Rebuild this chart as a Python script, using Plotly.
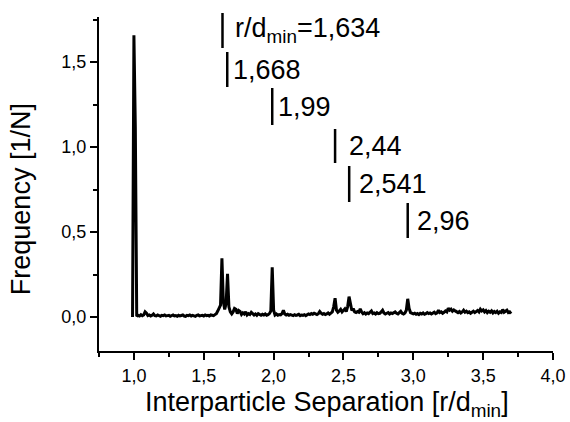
import plotly.graph_objects as go

# Histogram of interparticle separation (bin width 0.01, first bin at 0.99)
x_first = 0.99
bin_width = 0.01
freq = [
    0.000, 1.657, 1.118, 0.004, 0.010, 0.006, 0.014, 0.008, 0.012, 0.030,   # 0.99-1.08
    0.022, 0.008, 0.012, 0.006, 0.010, 0.018, 0.008, 0.006, 0.012, 0.008,   # 1.09-1.18
    0.004, 0.010, 0.008, 0.012, 0.006, 0.008, 0.010, 0.004, 0.008, 0.012,   # 1.19-1.28
    0.006, 0.008, 0.004, 0.010, 0.006, 0.008, 0.012, 0.006, 0.004, 0.010,   # 1.29-1.38
    0.008, 0.012, 0.006, 0.010, 0.008, 0.004, 0.010, 0.012, 0.006, 0.008,   # 1.39-1.48
    0.010, 0.006, 0.012, 0.008, 0.010, 0.006, 0.012, 0.010, 0.008, 0.014,   # 1.49-1.58
    0.020, 0.035, 0.055, 0.070, 0.346, 0.090, 0.045, 0.080, 0.254, 0.060,   # 1.59-1.68
    0.030, 0.018, 0.030, 0.050, 0.045, 0.020, 0.038, 0.032, 0.015, 0.025,   # 1.69-1.78
    0.018, 0.030, 0.012, 0.020, 0.015, 0.028, 0.020, 0.012, 0.018, 0.010,   # 1.79-1.88
    0.020, 0.014, 0.010, 0.016, 0.012, 0.018, 0.010, 0.014, 0.020, 0.035,   # 1.89-1.98
    0.293, 0.040, 0.012, 0.018, 0.010, 0.014, 0.012, 0.020, 0.040, 0.018,   # 1.99-2.08
    0.012, 0.016, 0.010, 0.014, 0.012, 0.008, 0.014, 0.010, 0.012, 0.016,   # 2.09-2.18
    0.008, 0.012, 0.010, 0.014, 0.008, 0.012, 0.018, 0.014, 0.020, 0.016,   # 2.19-2.28
    0.022, 0.018, 0.014, 0.020, 0.032, 0.022, 0.016, 0.020, 0.014, 0.018,   # 2.29-2.38
    0.024, 0.016, 0.022, 0.030, 0.060, 0.111, 0.040, 0.028, 0.035, 0.045,   # 2.39-2.48
    0.030, 0.040, 0.048, 0.032, 0.060, 0.120, 0.070, 0.038, 0.050, 0.030,   # 2.49-2.58
    0.026, 0.032, 0.028, 0.048, 0.030, 0.020, 0.026, 0.018, 0.024, 0.020,   # 2.59-2.68
    0.028, 0.036, 0.020, 0.024, 0.018, 0.026, 0.020, 0.022, 0.030, 0.040,   # 2.69-2.78
    0.024, 0.018, 0.022, 0.026, 0.018, 0.024, 0.020, 0.026, 0.030, 0.022,   # 2.79-2.88
    0.018, 0.026, 0.034, 0.022, 0.018, 0.024, 0.040, 0.107, 0.050, 0.026,   # 2.89-2.98
    0.020, 0.018, 0.022, 0.016, 0.020, 0.014, 0.022, 0.018, 0.024, 0.016,   # 2.99-3.08
    0.020, 0.026, 0.020, 0.024, 0.018, 0.022, 0.028, 0.020, 0.024, 0.040,   # 3.09-3.18
    0.026, 0.030, 0.022, 0.028, 0.036, 0.030, 0.052, 0.040, 0.046, 0.034,   # 3.19-3.28
    0.042, 0.036, 0.030, 0.026, 0.032, 0.024, 0.030, 0.040, 0.028, 0.034,   # 3.29-3.38
    0.026, 0.030, 0.022, 0.028, 0.034, 0.026, 0.032, 0.038, 0.030, 0.046,   # 3.39-3.48
    0.036, 0.042, 0.030, 0.038, 0.026, 0.034, 0.028, 0.036, 0.024, 0.032,   # 3.49-3.58
    0.026, 0.034, 0.022, 0.030, 0.026, 0.044, 0.028, 0.036, 0.040, 0.026,   # 3.59-3.68
    0.030, 0.020,                                                           # 3.69-3.70
]
separation = [round(x_first + bin_width * i, 2) for i in range(len(freq))]

peak_positions = [1.634, 1.668, 1.99, 2.44, 2.541, 2.96]
peak_labels = ["r/d<sub>min</sub>=1,634", "1,668", "1,99", "2,44", "2,541", "2,96"]

x_tickvals = [1.0, 1.5, 2.0, 2.5, 3.0, 3.5, 4.0]
y_tickvals = [0.0, 0.5, 1.0, 1.5]

FONT = "Liberation Sans, Arial, Helvetica, sans-serif"

fig = go.Figure()
fig.add_trace(go.Scatter(
    x=separation, y=freq, mode="lines",
    line=dict(color="black", width=3), showlegend=False, hoverinfo="skip",
))

# label bar placement (paper y ranges) and text offsets
bar_y = [(0.9072, 1.0120), (0.7904, 0.8952), (0.6766, 0.7874),
         (0.5629, 0.6647), (0.4461, 0.5539), (0.3383, 0.4431)]
text_shift = [11, 4, 4, 12, 8, 7]

for px, lab, (y0, y1), xs in zip(peak_positions, peak_labels, bar_y, text_shift):
    fig.add_shape(type="line", xref="x", yref="paper", x0=px, x1=px, y0=y0, y1=y1,
                  line=dict(color="black", width=2.5))
    fig.add_annotation(x=px, y=(y0 + y1) / 2, xref="x", yref="paper", text=lab,
                       showarrow=False, xanchor="left", yanchor="middle", xshift=xs,
                       font=dict(family=FONT, size=27, color="black"))

# axis titles
fig.add_annotation(x=0.503, y=-0.16, xref="paper", yref="paper",
                   text="Interparticle Separation [r/d<sub>min</sub>]", showarrow=False,
                   xanchor="center", yanchor="middle",
                   font=dict(family=FONT, size=27, color="black"))
fig.add_annotation(x=-0.17, y=0.454, xref="paper", yref="paper",
                   text="Frequency [1/N]", showarrow=False, textangle=-90,
                   xanchor="center", yanchor="middle",
                   font=dict(family=FONT, size=27, color="black"))

fig.update_layout(
    width=570, height=422,
    margin=dict(l=99, r=17, t=17, b=71, autoexpand=False),
    paper_bgcolor="white", plot_bgcolor="white",
    separators=",.",
    font=dict(family=FONT, size=18, color="black"),
    xaxis=dict(
        range=[0.75, 4.0], tickvals=x_tickvals, tickformat=".1f", automargin=False,
        showline=True, linecolor="black", linewidth=2,
        ticks="outside", ticklen=7, tickwidth=2, tickcolor="black",
        minor=dict(dtick=0.25, tick0=0.75, ticks="outside", ticklen=4, tickwidth=2, tickcolor="black"),
        showgrid=False, zeroline=False, tickfont=dict(size=18),
    ),
    yaxis=dict(
        range=[-0.2, 1.765], tickvals=y_tickvals, tickformat=".1f", automargin=False,
        showline=True, linecolor="black", linewidth=2,
        ticks="outside", ticklen=7, tickwidth=2, tickcolor="black",
        minor=dict(dtick=0.25, tick0=0.0, ticks="outside", ticklen=4, tickwidth=2, tickcolor="black"),
        showgrid=False, zeroline=False, tickfont=dict(size=18),
    ),
)

fig.write_html("out.html")
